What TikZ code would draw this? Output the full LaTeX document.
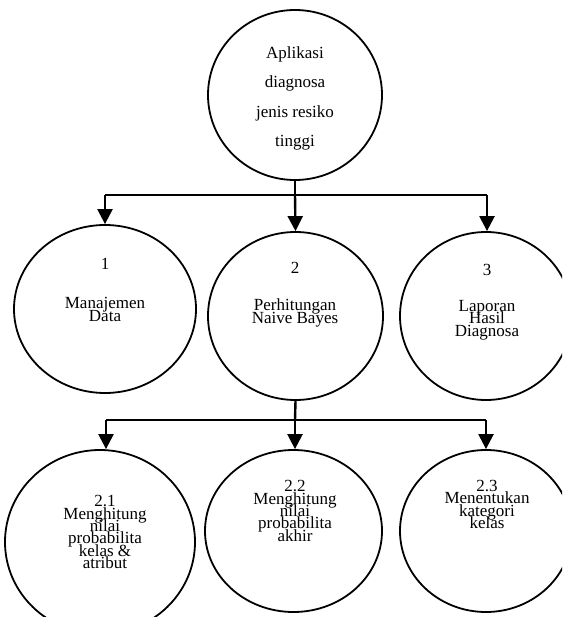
\documentclass[tikz,border=0pt]{standalone}
\usepackage{fontspec}
\setmainfont{Liberation Serif}
\usetikzlibrary{shapes.geometric,arrows.meta}
\newcommand\mytightlines{\lineskiplimit=-100pt\relax}
\newcommand\mysmallfont{\fontsize{17}{12.3}\selectfont\mytightlines}
\newcommand\mytopfont{\fontsize{17}{29.5}\selectfont\mytightlines}
\begin{document}
\begin{tikzpicture}[x=1pt,y=-1pt,
  proc/.style={draw,ellipse,line width=1.8pt,inner sep=0pt},
  lbl/.style={align=center,inner sep=0pt,font=\mysmallfont},
  toplbl/.style={align=center,inner sep=0pt,font=\mytopfont},
  flow/.style={line width=2pt},
  flowarrow/.style={line width=2.4pt,-{Triangle[width=15pt,length=15pt]}}]
\useasboundingbox (0,0) rectangle (562,617);
\clip (0,0) rectangle (562,617);
\fill[white] (0,0) rectangle (562,617);
% circles
\node[proc,minimum width=174pt,minimum height=170pt] (top) at (295,95) {};
\node[proc,minimum width=182pt,minimum height=168pt] (c1) at (105,309) {};
\node[proc,minimum width=175pt,minimum height=168pt] (c2) at (295.5,316) {};
\node[proc,minimum width=172pt,minimum height=168pt] (c3) at (486,316) {};
\node[proc,minimum width=190pt,minimum height=184pt] (c21) at (100,542) {};
\node[proc,minimum width=177pt,minimum height=162pt] (c22) at (293.5,531) {};
\node[proc,minimum width=172pt,minimum height=162pt] (c23) at (486,531) {};
% texts
\node[toplbl] (ttop) at (295,98.5) {Aplikasi\\diagnosa\\jenis resiko\\tinggi};
\node[lbl] (n1) at (105,264) {1};
\node[lbl] (t1) at (105,309.5) {Manajemen\\Data};
\node[lbl] (n2) at (295,268) {2};
\node[lbl] (t2) at (295,313) {Perhitungan\\Naive Bayes};
\node[lbl] (n3) at (487,270) {3};
\node[lbl] (t3) at (487,320) {Laporan\\Hasil\\Diagnosa};
\node[lbl] (t21) at (105,532) {2.1\\Menghitung\\nilai\\probabilita\\kelas \&\\atribut};
\node[lbl] (t22) at (295,511) {2.2\\Menghitung\\nilai\\probabilita\\akhir};
\node[lbl] (t23) at (487,504.5) {2.3\\Menentukan\\kategori\\kelas};
% connectors level 1
\coordinate (j1) at (295,195);
\coordinate (l1) at (105,195);
\coordinate (r1) at (487,195);
\draw[flowarrow,-] (top.south) -- (j1);
\draw[flow] (l1) -- (r1);
\draw[flowarrow] (l1) -- (c1.north);
\draw[flowarrow] (j1) -- (c2.north);
\draw[flowarrow] (r1) -- (c3.north -| r1);
% connectors level 2
\coordinate (j2) at (295,420);
\coordinate (l2) at (106,420);
\coordinate (r2) at (486,420);
\draw[flowarrow,-] (c2.south) -- (j2);
\draw[flow] (l2) -- (r2);
\draw[flowarrow] (l2) -- (l2 |- c21.north);
\draw[flowarrow] (j2) -- (j2 |- c22.north);
\draw[flowarrow] (r2) -- (c23.north);
\end{tikzpicture}
\end{document}
